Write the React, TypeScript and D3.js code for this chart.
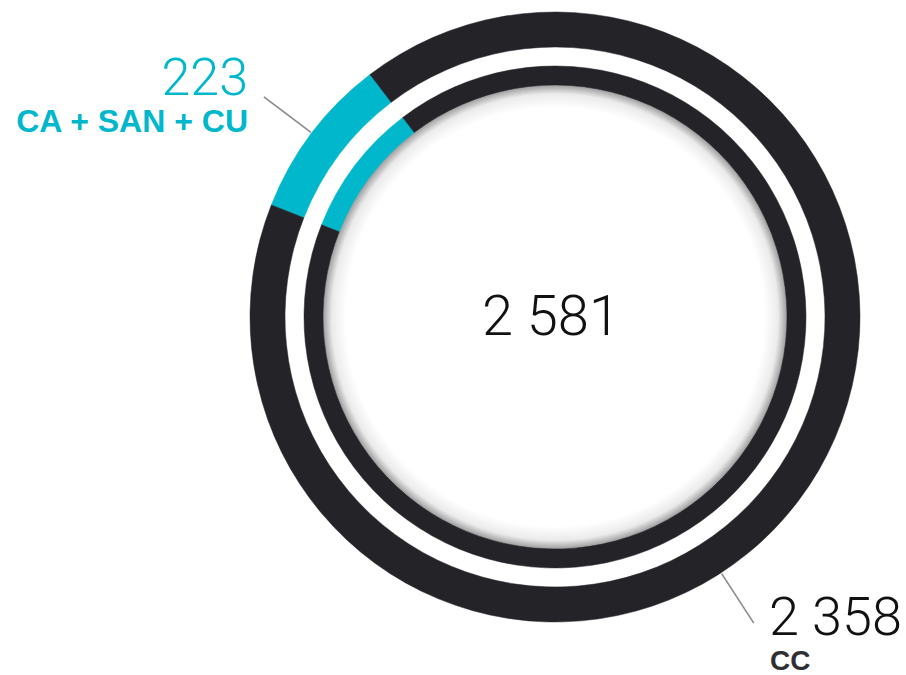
import { useEffect, useRef } from 'react'
import * as d3 from 'd3'

// segment data (both rings show the same split)
const labels = ['CA + SAN + CU', 'CC']
const values = [223, 2358]
const colors = ['#00b7cb', '#232328']

const W = 906
const H = 675

export default function App() {
  const svgRef = useRef<SVGSVGElement>(null)

  useEffect(() => {
    if (!svgRef.current) return
    const svg = d3.select(svgRef.current)
    svg.selectAll('*').remove()

    const cx = 555
    const cy = 317
    const outer = { r0: 270, r1: 305 }
    const inner = { r0: 232, r1: 251 }

    const total = d3.sum(values)
    const fmt = d3.formatLocale({ decimal: ',', thousands: ' ', grouping: [3], currency: ['', ''] }).format(',d')

    const toRad = (deg: number) => (deg * Math.PI) / 180
    // cyan slice centred at about -53deg (10 o'clock side)
    const firstSpan = (values[0] / total) * 360
    const start = toRad(-52.9 - firstSpan / 2)

    const pie = d3.pie<number>()
      .sort(null)
      .value(d => d)
      .startAngle(start)
      .endAngle(start + Math.PI * 2)
    const slices = pie(values)

    const defs = svg.append('defs')
    const grad = defs.append('radialGradient')
      .attr('id', 'innerShadow')
      .attr('cx', '50%').attr('cy', '50%').attr('r', '50%')
    grad.append('stop').attr('offset', '0.9').attr('stop-color', '#000').attr('stop-opacity', 0)
    grad.append('stop').attr('offset', '0.96').attr('stop-color', '#000').attr('stop-opacity', 0.08)
    grad.append('stop').attr('offset', '1').attr('stop-color', '#000').attr('stop-opacity', 0.4)

    const g = svg.append('g').attr('transform', `translate(${cx},${cy})`)

    // soft shadow inside the inner ring
    g.append('circle')
      .attr('r', inner.r0 + 0.5)
      .attr('fill', 'url(#innerShadow)')

    const rings = [outer, inner]
    rings.forEach(ring => {
      const arc = d3.arc<d3.PieArcDatum<number>>()
        .innerRadius(ring.r0)
        .outerRadius(ring.r1)
      g.append('g')
        .selectAll('path')
        .data(slices)
        .enter().append('path')
        .attr('d', arc)
        .attr('fill', (_d, i) => colors[i])
        .attr('stroke', (_d, i) => colors[i])
        .attr('stroke-width', 0.5)
    })

    // centre total
    g.append('text')
      .attr('x', -4)
      .attr('y', 18)
      .attr('text-anchor', 'middle')
      .style('font-family', 'Roboto, "Liberation Sans", sans-serif')
      .style('font-weight', 300)
      .style('font-size', '56px')
      .style('fill', '#111')
      .text(fmt(total))

    // leader lines (radial, from the outer edge outwards)
    const leader = (deg: number) => {
      const a = toRad(deg)
      const p = (r: number) => [Math.sin(a) * r, -Math.cos(a) * r]
      const [x1, y1] = p(outer.r1 + 1)
      const [x2, y2] = p(365)
      g.append('line')
        .attr('x1', x1).attr('y1', y1)
        .attr('x2', x2).attr('y2', y2)
        .attr('stroke', '#8a8a8a')
        .attr('stroke-width', 1.6)
    }
    const midCyan = ((slices[0].startAngle + slices[0].endAngle) / 2) * 180 / Math.PI
    leader(midCyan)
    leader(147)

    // cyan label, top left
    svg.append('text')
      .attr('x', 248).attr('y', 95)
      .attr('text-anchor', 'end')
      .style('font-family', 'Roboto, "Liberation Sans", sans-serif')
      .style('font-weight', 300)
      .style('font-size', '52px')
      .style('fill', colors[0])
      .text(fmt(values[0]))
    svg.append('text')
      .attr('x', 248).attr('y', 132)
      .attr('text-anchor', 'end')
      .style('font-family', '"Liberation Sans", Arial, sans-serif')
      .style('font-weight', 700)
      .style('font-size', '32px')
      .style('fill', colors[0])
      .text(labels[0])

    // dark label, bottom right
    svg.append('text')
      .attr('x', 769).attr('y', 635)
      .style('font-family', 'Roboto, "Liberation Sans", sans-serif')
      .style('font-weight', 300)
      .style('font-size', '54px')
      .style('fill', '#111')
      .text(fmt(values[1]))
    svg.append('text')
      .attr('x', 770).attr('y', 670)
      .style('font-family', '"Liberation Sans", Arial, sans-serif')
      .style('font-weight', 700)
      .style('font-size', '28px')
      .style('fill', '#2e2e33')
      .text(labels[1])
  }, [])

  return (
    <div style={{ position: 'absolute', left: 0, top: 0, width: W, height: H, background: '#fff' }}>
      <svg ref={svgRef} width={W} height={H} style={{ display: 'block' }} />
    </div>
  )
}
